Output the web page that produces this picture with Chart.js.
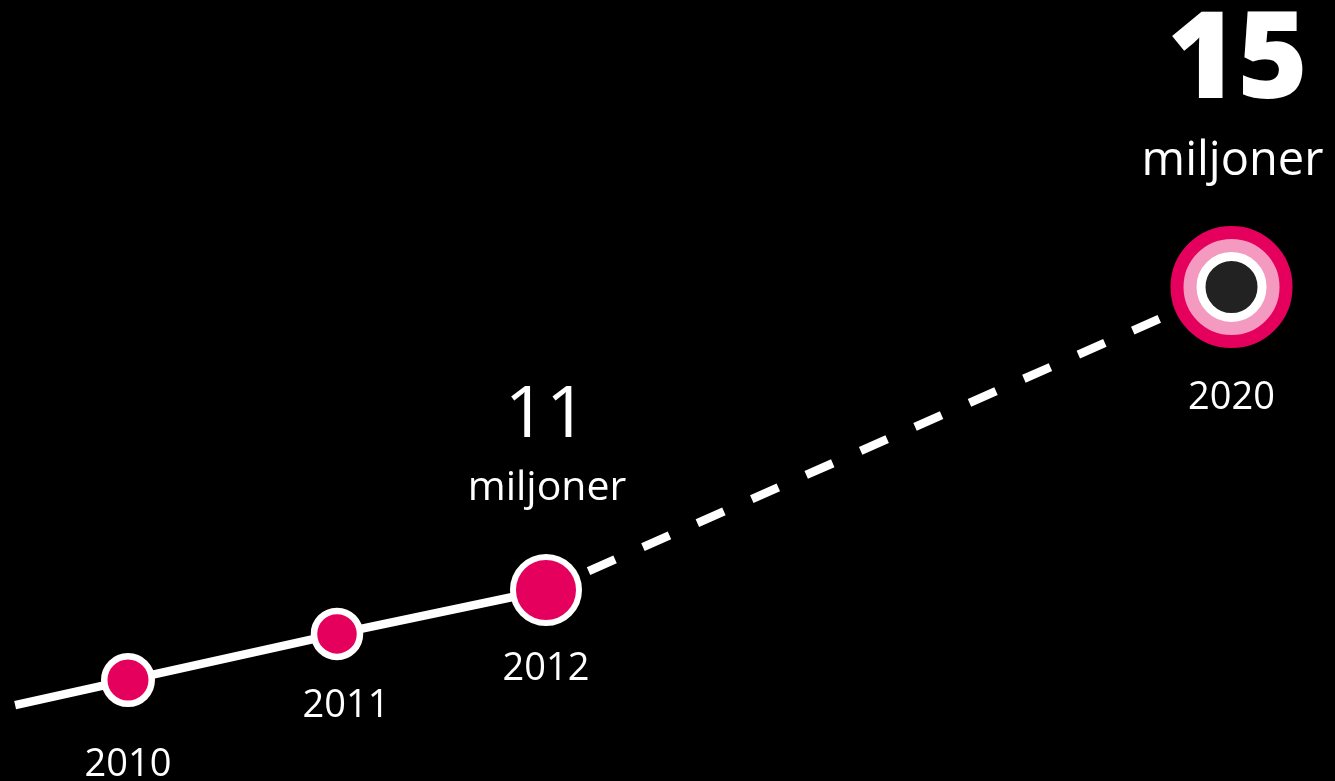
<!DOCTYPE html>
<html>
<head>
<meta charset="utf-8">
<script src="https://cdn.jsdelivr.net/npm/chart.js@4/dist/chart.umd.min.js"></script>
<style>
html,body{margin:0;padding:0;background:#000;overflow:hidden}
#wrap{width:1335px;height:781px;position:relative}
</style>
</head>
<body>
<div id="wrap"><canvas id="c"></canvas></div>
<script>
// ---- data ----
const years    = ['', '2010', '2011', '2012', '2020'];   // '' = lead-in of the line
const timeline = [-0.54, 0, 1, 2, 5.28];                 // position along the (schematic) time axis
const millions = [9.48, 9.81, 10.42, 11, 15];            // population, millions
const calloutYears = ['2012', '2020'];                   // points with a value callout
const unitLabel = 'miljoner';
const forecastFrom = 3;                                  // segment index from which line is a forecast

// ---- styles ----
const PINK = '#e5005d', LIGHTPINK = '#f49ac1', WHITE = '#ffffff', DARK = '#222222';
const FONT = '"Open Sans", "Noto Sans", sans-serif';
const yearLabelStyle = {
  '2010': {dx: 0, dy: 96},
  '2011': {dx: 9, dy: 83},
  '2012': {dx: 0, dy: 90},
  '2020': {dx: 0, dy: 122}
};
const calloutStyle = {
  '2012': {num: {size: 72, weight: 'normal', dx: 0, dy: -153}, unit: {size: 41, dx: 1, dy: -90}},
  '2020': {num: {size: 120, weight: '900', dx: 6, dy: -189}, unit: {size: 47, dx: 1, dy: -112}}
};

const points = timeline.map((x, i) => ({x, y: millions[i]}));
const last = points.length - 1;

const labelsPlugin = {
  id: 'labels',
  afterDatasetsDraw(chart) {
    const ctx = chart.ctx;
    const meta = chart.getDatasetMeta(0);
    ctx.save();
    ctx.fillStyle = WHITE;
    ctx.textAlign = 'center';
    ctx.textBaseline = 'alphabetic';
    meta.data.forEach((el, i) => {
      const yr = years[i];
      if (!yr) return;
      const s = yearLabelStyle[yr];
      ctx.font = `38px ${FONT}`;
      ctx.fillText(yr, el.x + s.dx, el.y + s.dy);
      if (calloutYears.includes(yr)) {
        const c = calloutStyle[yr];
        ctx.font = `${c.num.weight} ${c.num.size}px ${FONT}`;
        ctx.fillText(String(Math.round(millions[i])), el.x + c.num.dx, el.y + c.num.dy);
        ctx.font = `${c.unit.size}px ${FONT}`;
        ctx.fillText(unitLabel, el.x + c.unit.dx, el.y + c.unit.dy);
      }
    });
    ctx.restore();
  }
};

new Chart(document.getElementById('c'), {
  type: 'line',
  data: {
    datasets: [
      {
        data: points,
        order: 3,
        borderColor: WHITE,
        borderWidth: 8.5,
        tension: 0,
        clip: false,
        pointRadius: [0, 23.75, 23, 33, 0],
        pointBorderWidth: [0, 6.5, 6.5, 6, 0],
        pointBackgroundColor: PINK,
        pointBorderColor: WHITE,
        segment: {
          borderDash: c => c.p0DataIndex >= forecastFrom ? [29, 30.5] : undefined,
          borderDashOffset: c => c.p0DataIndex >= forecastFrom ? 13 : undefined
        }
      },
      {
        data: [points[last]],
        order: 2,
        showLine: false,
        clip: false,
        pointRadius: 54.5,
        pointBorderWidth: 13,
        pointBackgroundColor: LIGHTPINK,
        pointBorderColor: PINK
      },
      {
        data: [points[last]],
        order: 1,
        showLine: false,
        clip: false,
        pointRadius: 30.5,
        pointBorderWidth: 9,
        pointBackgroundColor: DARK,
        pointBorderColor: WHITE
      }
    ]
  },
  options: {
    responsive: true,
    maintainAspectRatio: false,
    animation: false,
    events: [],
    layout: {padding: 0, autoPadding: false},
    plugins: {legend: {display: false}, tooltip: {enabled: false}},
    scales: {
      x: {type: 'linear', display: false, min: -0.6124, max: 5.7751},
      y: {type: 'linear', display: false, min: 8.478, max: 18.789}
    }
  },
  plugins: [labelsPlugin]
});
</script>
</body>
</html>
